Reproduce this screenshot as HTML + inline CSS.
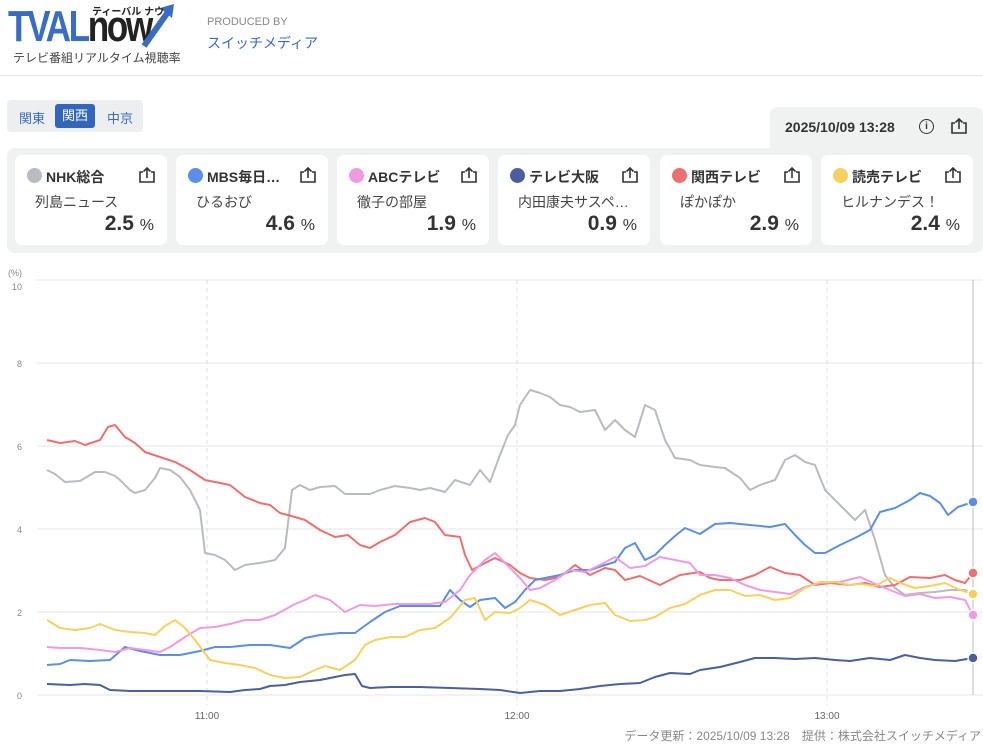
<!DOCTYPE html>
<html><head><meta charset="utf-8"><style>
body{margin:0;width:983px;height:755px;background:#fff;font-family:"Liberation Sans","Noto Sans CJK JP",sans-serif;position:relative;overflow:hidden;color:#333}
.abs{position:absolute}
.card{position:absolute;top:155px;width:152px;height:90px;background:#fff;border-radius:7px}
.card .dot{position:absolute;left:12px;top:13px;width:15px;height:15px;border-radius:50%}
.card .nm{position:absolute;left:31px;top:12px;font-size:14px;font-weight:bold;color:#333}
.card .pg{position:absolute;left:20px;top:37px;font-size:14px;color:#444}
.card .val{position:absolute;right:13px;top:57px;font-size:21px;font-weight:bold;color:#333}
.card .val span{font-size:16px;font-weight:normal}
.card svg{position:absolute;right:11px;top:11px}
</style></head><body>
<div class="abs" style="left:8px;top:2px;font-size:44px;font-weight:bold;color:#3b6cc4;letter-spacing:-3px;transform:scaleX(0.8);transform-origin:left">TVAL<span style="color:#222">now</span></div>
<svg class="abs" style="left:140px;top:2px" width="36" height="46"><path d="M4 44 L28 10" stroke="#3b6cc4" stroke-width="6"/><path d="M20 6 L34 2 L32 16 Z" fill="#3b6cc4"/></svg>
<div class="abs" style="left:92px;top:3px;font-size:10px;font-weight:bold;color:#222">ティーバル ナウ</div>
<div class="abs" style="left:13px;top:49px;font-size:12px;color:#444">テレビ番組リアルタイム視聴率</div>
<div class="abs" style="left:207px;top:16px;font-size:11px;color:#888">PRODUCED BY</div>
<div class="abs" style="left:207px;top:33px;font-size:14px;color:#3b6cc4">スイッチメディア</div>
<div class="abs" style="left:0;top:75px;width:983px;height:1px;background:#e6e6e6"></div>
<div class="abs" style="left:7px;top:100px;width:136px;height:32px;background:#eceeef;border-radius:4px"></div>
<div class="abs" style="left:19px;top:108px;font-size:13px;color:#3b6cc4">関東</div>
<div class="abs" style="left:55px;top:104px;width:40px;height:24px;background:#3166b8;border-radius:3px;color:#fff;font-size:13px;text-align:center;line-height:24px">関西</div>
<div class="abs" style="left:107px;top:108px;font-size:13px;color:#3b6cc4">中京</div>
<div class="abs" style="left:770px;top:107px;width:213px;height:50px;background:#f0f2f2;border-radius:8px 8px 0 0"></div>
<div class="abs" style="left:7px;top:148px;width:976px;height:105px;background:#f0f2f2;border-radius:8px 0 8px 8px"></div>
<div class="abs" style="left:785px;top:119px;font-size:14px;font-weight:bold;color:#333">2025/10/09 13:28</div>
<div class="abs" style="left:919px;top:119px;width:13px;height:13px;border:1.5px solid #333;border-radius:50%;font-size:10px;font-weight:bold;text-align:center;line-height:13px">i</div>
<svg class="abs" style="left:950px;top:117px" width="18" height="18"><path d="M5 6 H2 V16 H16 V6 H13" fill="none" stroke="#333" stroke-width="1.6"/><path d="M9 12 V2 M5.5 5.5 L9 2 L12.5 5.5" fill="none" stroke="#333" stroke-width="1.6"/></svg>
<div class="card" style="left:15px"><div class="dot" style="background:#b8bbc0"></div><div class="nm">NHK総合</div><svg width="18" height="18"><path d="M5 6 H2 V16 H16 V6 H13" fill="none" stroke="#333" stroke-width="1.6"/><path d="M9 12 V2 M5.5 5.5 L9 2 L12.5 5.5" fill="none" stroke="#333" stroke-width="1.6"/></svg><div class="pg">列島ニュース</div><div class="val">2.5 <span>%</span></div></div>
<div class="card" style="left:176px"><div class="dot" style="background:#5b8ee8"></div><div class="nm">MBS毎日…</div><svg width="18" height="18"><path d="M5 6 H2 V16 H16 V6 H13" fill="none" stroke="#333" stroke-width="1.6"/><path d="M9 12 V2 M5.5 5.5 L9 2 L12.5 5.5" fill="none" stroke="#333" stroke-width="1.6"/></svg><div class="pg">ひるおび</div><div class="val">4.6 <span>%</span></div></div>
<div class="card" style="left:337px"><div class="dot" style="background:#f09ae0"></div><div class="nm">ABCテレビ</div><svg width="18" height="18"><path d="M5 6 H2 V16 H16 V6 H13" fill="none" stroke="#333" stroke-width="1.6"/><path d="M9 12 V2 M5.5 5.5 L9 2 L12.5 5.5" fill="none" stroke="#333" stroke-width="1.6"/></svg><div class="pg">徹子の部屋</div><div class="val">1.9 <span>%</span></div></div>
<div class="card" style="left:498px"><div class="dot" style="background:#4a5fa0"></div><div class="nm">テレビ大阪</div><svg width="18" height="18"><path d="M5 6 H2 V16 H16 V6 H13" fill="none" stroke="#333" stroke-width="1.6"/><path d="M9 12 V2 M5.5 5.5 L9 2 L12.5 5.5" fill="none" stroke="#333" stroke-width="1.6"/></svg><div class="pg">内田康夫サスペ…</div><div class="val">0.9 <span>%</span></div></div>
<div class="card" style="left:660px"><div class="dot" style="background:#ec7070"></div><div class="nm">関西テレビ</div><svg width="18" height="18"><path d="M5 6 H2 V16 H16 V6 H13" fill="none" stroke="#333" stroke-width="1.6"/><path d="M9 12 V2 M5.5 5.5 L9 2 L12.5 5.5" fill="none" stroke="#333" stroke-width="1.6"/></svg><div class="pg">ぽかぽか</div><div class="val">2.9 <span>%</span></div></div>
<div class="card" style="left:821px"><div class="dot" style="background:#f8d060"></div><div class="nm">読売テレビ</div><svg width="18" height="18"><path d="M5 6 H2 V16 H16 V6 H13" fill="none" stroke="#333" stroke-width="1.6"/><path d="M9 12 V2 M5.5 5.5 L9 2 L12.5 5.5" fill="none" stroke="#333" stroke-width="1.6"/></svg><div class="pg">ヒルナンデス！</div><div class="val">2.4 <span>%</span></div></div>
<svg class="abs" style="left:0;top:260px" width="983" height="470" font-family="Liberation Sans, sans-serif">
<g transform="translate(0,-260)">
<text x="8" y="276" font-size="9" fill="#888">(%)</text>
<g font-size="9" fill="#888" text-anchor="end">
<text x="22" y="290">10</text><text x="22" y="367">8</text><text x="22" y="450">6</text><text x="22" y="533">4</text><text x="22" y="616">2</text><text x="22" y="699">0</text></g>
<g stroke="#e4e4e4" stroke-width="1">
<line x1="37" x2="983" y1="280" y2="280"/><line x1="37" x2="983" y1="363" y2="363"/><line x1="37" x2="983" y1="446" y2="446"/><line x1="37" x2="983" y1="529" y2="529"/><line x1="37" x2="983" y1="612" y2="612"/><line x1="37" x2="983" y1="695" y2="695"/></g>
<g stroke="#ddd" stroke-dasharray="4,4"><line x1="207" x2="207" y1="280" y2="705"/><line x1="517" x2="517" y1="280" y2="705"/><line x1="827" x2="827" y1="280" y2="705"/></g>
<line x1="973" x2="973" y1="280" y2="695" stroke="#bbb"/>
<g font-size="10" fill="#666" text-anchor="middle"><text x="207" y="719">11:00</text><text x="517" y="719">12:00</text><text x="827" y="719">13:00</text></g>
<g fill="none" stroke-width="2" stroke-linejoin="round">
<polyline stroke="#b8bbc0" points="47,470 55,474 65,482 80,481 95,472 105,472 115,476 120,480 130,490 135,493 145,490 155,478 160,468 170,470 180,477 190,490 200,510 205,553 215,555 225,560 235,570 245,565 260,563 275,560 285,548 292,490 300,485 310,490 320,487 335,486 345,494 355,494 370,494 380,490 395,486 410,488 420,490 430,488 445,492 455,480 470,485 480,470 490,482 500,455 508,435 515,425 520,405 530,390 540,393 550,397 560,405 570,407 580,412 595,410 605,430 615,420 625,430 635,437 645,405 655,410 665,440 675,458 690,460 700,465 715,467 725,468 740,478 750,490 760,485 775,480 785,460 795,455 805,462 815,465 825,490 835,500 845,510 855,520 865,510 875,540 885,575 895,588 905,595 920,593 935,592 950,590 965,590 973,593"/>
<polyline stroke="#ec7070" points="47,440 60,443 75,441 85,445 100,440 108,427 115,425 125,437 135,443 145,452 160,457 175,462 190,470 205,480 215,482 230,485 245,497 260,503 270,505 280,513 295,517 305,520 320,530 335,537 348,535 360,545 370,548 380,542 395,535 410,522 425,518 435,522 445,535 460,537 465,555 472,570 485,563 495,558 510,565 520,573 530,578 545,580 560,577 575,565 590,575 605,568 615,570 625,580 640,576 660,585 680,575 700,572 710,578 720,580 740,580 755,575 770,567 785,573 800,575 815,585 830,583 850,585 865,583 880,587 895,585 910,577 930,578 945,575 955,580 965,583 973,573"/>
<polyline stroke="#5b8ee8" points="47,665 60,664 70,660 90,661 110,660 125,647 140,651 160,655 180,655 200,651 215,647 230,647 250,645 270,645 290,648 305,638 320,635 340,633 355,633 370,622 385,612 400,606 420,606 440,606 450,590 460,600 470,607 480,600 495,598 505,608 515,602 525,590 535,580 545,578 560,575 575,570 590,570 605,565 615,562 625,548 635,543 645,560 655,555 665,545 675,536 685,528 700,534 715,524 730,523 750,525 770,527 785,524 795,535 805,545 815,553 825,553 840,545 855,538 870,530 880,512 895,508 910,500 920,493 930,496 940,503 948,515 958,507 973,502"/>
<polyline stroke="#f09ae0" points="47,647 60,648 80,648 100,650 115,652 130,648 145,650 160,652 170,647 185,637 200,628 215,627 230,624 245,620 260,620 275,615 295,604 305,600 315,595 330,600 345,612 360,605 375,606 395,604 410,604 430,604 445,602 460,590 470,575 485,560 495,553 505,563 520,578 530,590 540,588 555,580 570,570 585,572 600,565 615,557 630,568 645,566 660,557 675,560 690,563 700,575 715,575 730,578 745,585 760,590 775,592 790,594 805,587 820,583 840,582 860,577 880,586 890,590 905,596 920,594 935,598 950,597 965,600 973,615"/>
<polyline stroke="#f8d060" points="47,620 60,628 75,630 90,628 100,624 115,630 130,632 145,633 155,635 165,626 175,620 185,628 195,640 210,660 225,663 240,665 255,668 270,675 285,678 300,677 315,670 325,666 340,670 355,660 365,645 375,640 390,637 405,637 420,630 435,628 450,618 465,600 475,598 485,620 495,612 510,613 520,608 530,600 545,605 560,615 575,610 590,605 605,603 615,615 630,621 645,620 655,617 670,608 685,604 700,595 715,590 730,590 745,596 760,595 775,600 790,598 805,588 820,582 835,582 850,585 860,584 875,586 890,578 900,583 915,588 930,586 945,583 960,590 973,594"/>
<polyline stroke="#4a5fa0" points="47,684 70,685 85,684 100,685 110,690 130,691 150,691 180,691 200,691 230,692 245,690 260,689 270,686 285,685 300,682 320,680 335,677 345,675 355,674 362,686 370,688 390,687 420,687 450,688 480,689 500,690 520,693 540,691 560,691 580,689 600,686 620,684 640,683 655,677 670,673 690,674 700,670 720,667 740,662 755,658 775,658 795,659 815,658 835,660 850,661 870,658 890,660 905,655 920,658 935,660 955,661 973,658"/>
</g>
<g stroke="#fff" stroke-width="1.5">
<circle cx="973" cy="502" r="5" fill="#5b8ee8"/><circle cx="973" cy="573" r="5" fill="#ec7070"/><circle cx="973" cy="593" r="5" fill="#b8bbc0"/><circle cx="973" cy="594" r="5" fill="#f8d060"/><circle cx="973" cy="615" r="5" fill="#f09ae0"/><circle cx="973" cy="658" r="5" fill="#4a5fa0"/></g>
</g></svg>
<div class="abs" style="right:2px;top:727px;font-size:12px;color:#888">データ更新：2025/10/09 13:28　提供：株式会社スイッチメディア</div>
</body></html>
